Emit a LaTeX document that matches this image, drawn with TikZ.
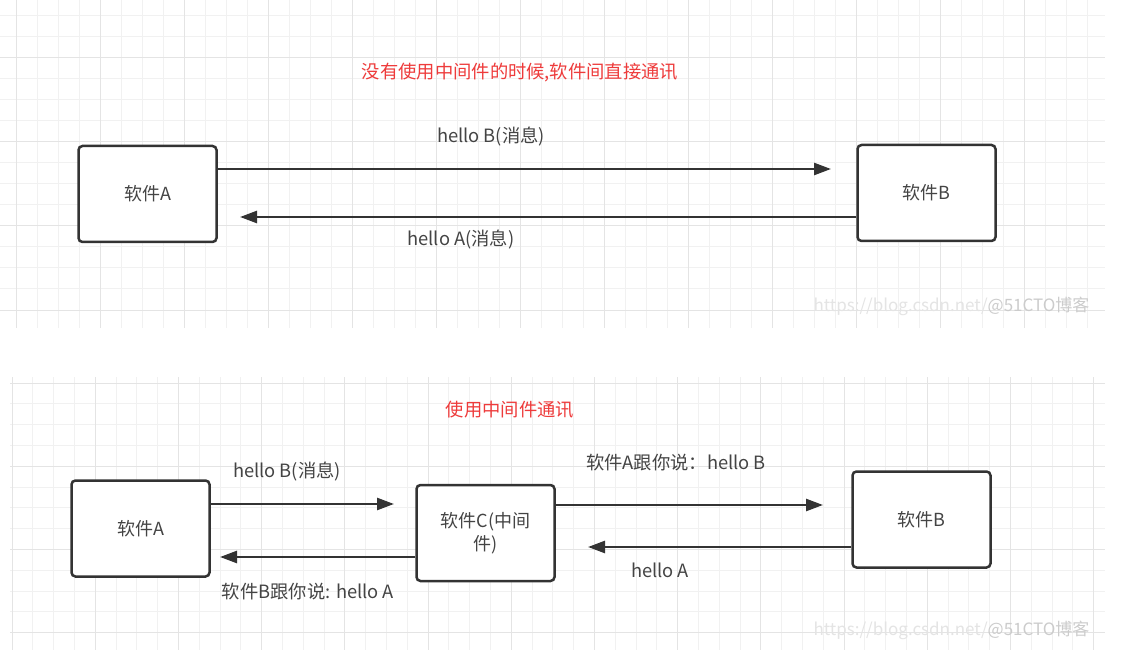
\documentclass[tikz,border=0pt]{standalone}
\usepackage{fontspec}
\setmainfont{Noto Sans CJK SC}
\usetikzlibrary{arrows.meta}
\definecolor{titlered}{HTML}{EE3B3B}
\definecolor{boxline}{HTML}{333333}
\definecolor{labelgray}{HTML}{444444}
\definecolor{gridminor}{HTML}{F1F1F1}
\definecolor{gridmajor}{HTML}{E4E4E4}
\definecolor{markgray}{HTML}{CCCCCC}

\tikzset{
  softbox/.style={draw=boxline, line width=2.5pt, rounded corners=4pt, fill=white,
    minimum width=138pt, minimum height=96pt, align=center,
    font=\fontsize{18}{23}\selectfont, text=labelgray},
  msg/.style={draw=boxline, line width=2.5pt, -{Triangle[length=17pt,width=12pt]}},
  msglabel/.style={font=\fontsize{18.3}{21}\selectfont, text=labelgray},
  heading/.style={font=\fontsize{18.3}{21}\selectfont, text=titlered},
  watermark/.style={font=\fontsize{17}{20}\selectfont, text=markgray, anchor=east},
  gridline/.style={draw=gridminor, line width=1pt},
  gridbold/.style={draw=gridmajor, line width=1pt}
}

\begin{document}
\begin{tikzpicture}[x=1pt, y=-1pt]
\useasboundingbox (0,0) rectangle (1125,655);
\fill[white] (0,0) rectangle (1125,655);

% Grid - top panel
\foreach \k in {0,...,51} {\draw[gridline] ({16+21*\k},0) -- ++(0,328);}
\foreach \k in {0,...,14} {\draw[gridline] (0,{16+21*\k}) -- ++(1105,0);}
\foreach \k in {0,...,12} {\draw[gridbold] ({16+84*\k},0) -- ++(0,328);}
\foreach \k in {0,...,3} {\draw[gridbold] (0,{58+84*\k}) -- ++(1105,0);}

% Grid - bottom panel
\foreach \k in {0,...,52} {\draw[gridline] ({12+20.8*\k},377) -- ++(0,273);}
\foreach \k in {0,...,12} {\draw[gridline] (10,{383+20.8*\k}) -- ++(1095,0);}
\foreach \k in {0,...,13} {\draw[gridbold] ({12+83.2*\k},377) -- ++(0,273);}
\foreach \k in {0,...,3} {\draw[gridbold] (10,{383+83.2*\k}) -- ++(1095,0);}

% Watermarks
\node[watermark] (markTop) at (1093,306) {{\color{gridmajor}https://blog.csdn.net/}@51CTO博客};
\node[watermark] (markBot) at (1093,630) {{\color{gridmajor}https://blog.csdn.net/}@51CTO博客};

% Top panel - direct communication
\node[heading] (titleTop) at (520,73) {没有使用中间件的时候,软件间直接通讯};
\node[softbox] (topA) at (147.5,194) {软件A};
\node[softbox] (topB) at (926.5,193) {软件B};

\coordinate (tipAB) at (831,169);
\coordinate (tipBA) at (240,217);
\draw[msg] (tipAB -| topA.east) -- (tipAB);
\draw[msg] (tipBA -| topB.west) -- (tipBA);

\node[msglabel] (lblAB) at (491,137) {hello B(消息)};
\node[msglabel] (lblBA) at (461,240) {hello A(消息)};

% Bottom panel - through middleware
\node[heading] (titleBot) at (510,410) {使用中间件通讯};
\node[softbox] (botA) at (140.5,528.5) {软件A};
\node[softbox] (botC) at (485.5,533) {软件C(中间\\件)};
\node[softbox] (botB) at (921.5,519.5) {软件B};

\coordinate (tipAC) at (394,504);
\coordinate (tipCA) at (220,557);
\coordinate (tipCB) at (823,505);
\coordinate (tipBC) at (588,547);
\draw[msg] (tipAC -| botA.east) -- (tipAC);
\draw[msg] (tipCA -| botC.west) -- (tipCA);
\draw[msg] (tipCB -| botC.east) -- (tipCB);
\draw[msg] (tipBC -| botB.west) -- (tipBC);

\node[msglabel] (lblAC) at (287,472) {hello B(消息)};
\node[msglabel] (lblCA) at (308,592) {软件B跟你说: hello A};
\node[msglabel] (lblCB) at (676,463) {软件A跟你说：hello B};
\node[msglabel] (lblBC) at (660,570) {hello A};
\end{tikzpicture}
\end{document}
